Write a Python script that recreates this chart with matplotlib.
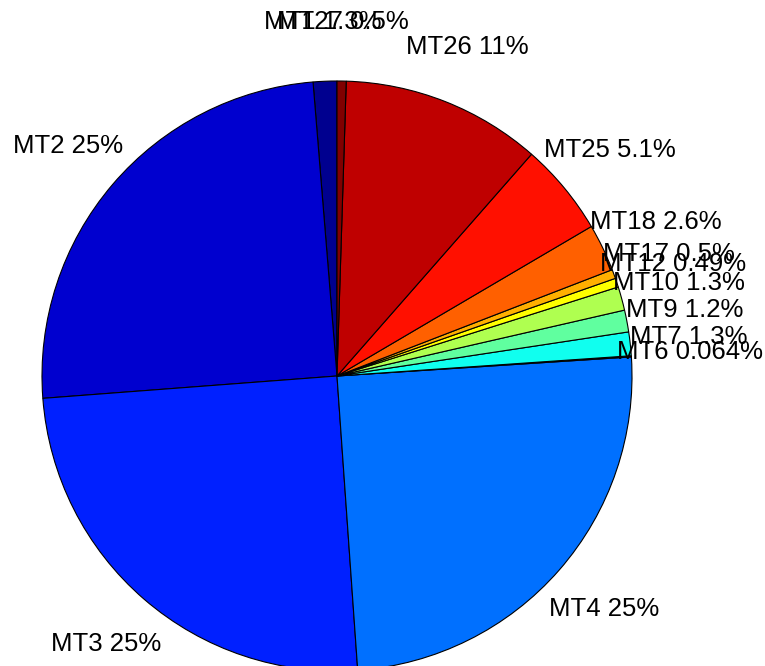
import numpy as np
import matplotlib
matplotlib.use("Agg")
import matplotlib.pyplot as plt

# slice data, counter-clockwise from 12 o'clock (MATLAB pie order)
names = ["MT1", "MT2", "MT3", "MT4", "MT6", "MT7", "MT9", "MT10",
         "MT12", "MT17", "MT18", "MT25", "MT26", "MT27"]
shares = [1.3, 25, 25, 25, 0.064, 1.3, 1.2, 1.3,
          0.49, 0.5, 2.6, 5.1, 11, 0.5]
pct_text = ["1.3%", "25%", "25%", "25%", "0.064%", "1.3%", "1.2%", "1.3%",
            "0.49%", "0.5%", "2.6%", "5.1%", "11%", "0.5%"]


def matlab_jet(m=64):
    # same construction as MATLAB's jet(m)
    n = int(np.ceil(m / 4))
    u = np.concatenate([np.arange(1, n + 1) / n, np.ones(n - 1),
                        np.arange(n, 0, -1) / n])
    g = int(np.ceil(n / 2)) - (1 if m % 4 == 1 else 0) + np.arange(1, len(u) + 1)
    r = g + n
    b = g - n
    cmap = np.zeros((m, 3))
    for col, idx in ((0, r), (1, g), (2, b)):
        keep = (idx >= 1) & (idx <= m)
        cmap[idx[keep] - 1, col] = u[keep]
    return cmap


# slice i gets CData i, scaled over the 64-entry figure colormap
jet64 = matlab_jet(64)
k = len(names)
rows = np.minimum(np.floor(np.arange(k) / (k - 1) * 64).astype(int), 63)
colors = jet64[rows]

labels = [f"{n} {p}" for n, p in zip(names, pct_text)]

fig = plt.figure(figsize=(7.65, 6.66), dpi=100)
ax = fig.add_axes([0, 0, 1, 1])

ax.pie(shares, labels=labels, colors=colors, startangle=90, counterclock=True,
       labeldistance=1.2,
       wedgeprops={'edgecolor': 'black', 'linewidth': 0.8},
       textprops={'fontsize': 18.5, 'family': 'Liberation Sans',
                  'ha': 'center', 'va': 'center'})

# place the pie like the original (centre at 337,376 px, radius 295 px)
r = 295.0
ax.set_xlim(-337 / r, (765 - 337) / r)
ax.set_ylim(-(666 - 376) / r, 376 / r)
ax.set_aspect('auto')
ax.axis('off')

fig.savefig("out.png", dpi=100)
